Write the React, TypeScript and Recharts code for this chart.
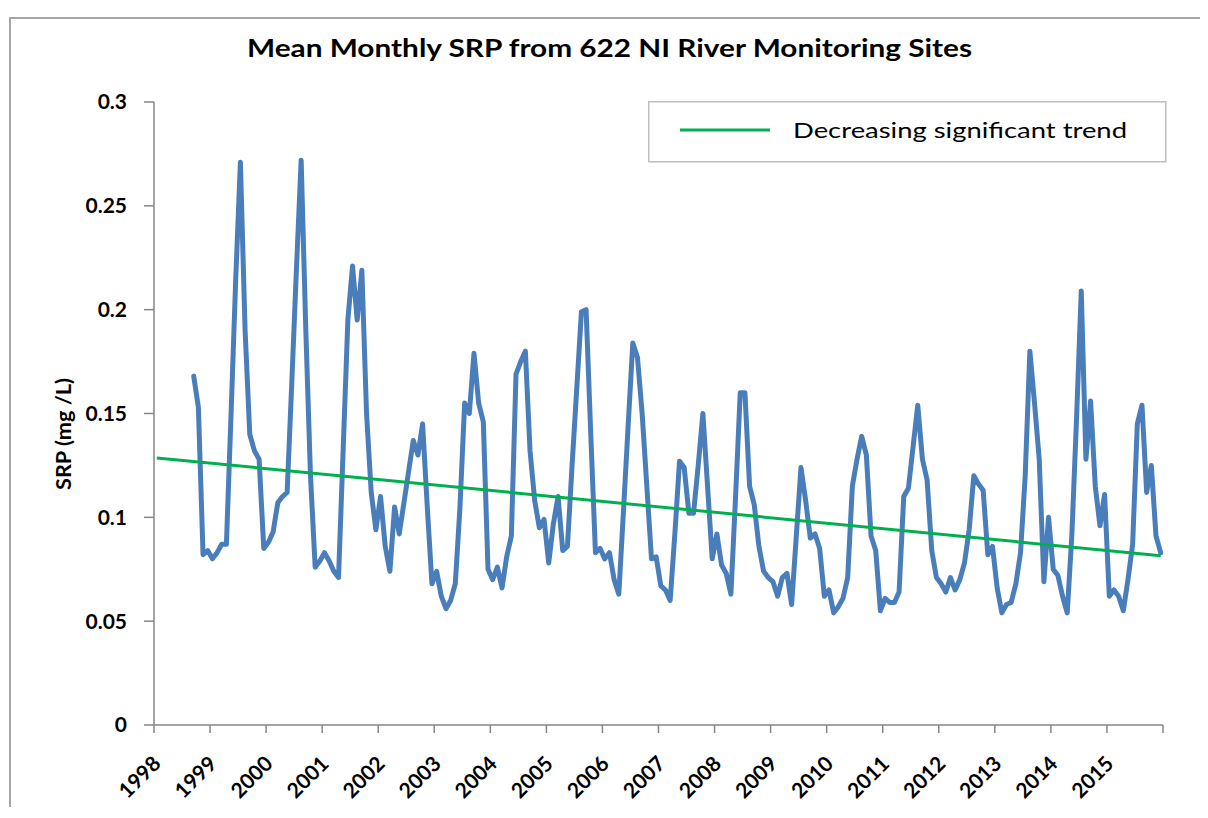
import React from 'react';
import { LineChart, Line, XAxis, YAxis, Legend } from 'recharts';

// ---------- data ----------
const tickYears = [1998, 1999, 2000, 2001, 2002, 2003, 2004, 2005, 2006, 2007, 2008, 2009, 2010, 2011, 2012, 2013, 2014, 2015, 2016];
const yTicks = [0, 0.05, 0.1, 0.15, 0.2, 0.25, 0.3];

// Mean monthly SRP (mg/L); 1998 starts in September
const srp1998 = [0.168, 0.153, 0.082, 0.084];
const srp1999 = [0.080, 0.083, 0.087, 0.087, 0.150, 0.215, 0.271, 0.190, 0.140, 0.132, 0.128, 0.085];
const srp2000 = [0.088, 0.093, 0.107, 0.110, 0.112, 0.165, 0.220, 0.272, 0.190, 0.120, 0.076, 0.079];
const srp2001 = [0.083, 0.079, 0.074, 0.071, 0.133, 0.195, 0.221, 0.195, 0.219, 0.150, 0.112, 0.094];
const srp2002 = [0.110, 0.086, 0.074, 0.105, 0.092, 0.107, 0.122, 0.137, 0.130, 0.145, 0.105, 0.068];
const srp2003 = [0.074, 0.062, 0.056, 0.060, 0.068, 0.105, 0.155, 0.150, 0.179, 0.155, 0.146, 0.075];
const srp2004 = [0.070, 0.076, 0.066, 0.081, 0.091, 0.169, 0.175, 0.180, 0.132, 0.108, 0.095, 0.099];
const srp2005 = [0.078, 0.097, 0.110, 0.084, 0.086, 0.125, 0.162, 0.199, 0.200, 0.140, 0.083, 0.085];
const srp2006 = [0.080, 0.083, 0.070, 0.063, 0.103, 0.144, 0.184, 0.177, 0.150, 0.115, 0.080, 0.081];
const srp2007 = [0.067, 0.065, 0.060, 0.092, 0.127, 0.124, 0.102, 0.102, 0.125, 0.150, 0.115, 0.080];
const srp2008 = [0.092, 0.077, 0.073, 0.063, 0.110, 0.160, 0.160, 0.115, 0.106, 0.086, 0.074, 0.071];
const srp2009 = [0.069, 0.062, 0.071, 0.073, 0.058, 0.091, 0.124, 0.108, 0.090, 0.092, 0.085, 0.062];
const srp2010 = [0.065, 0.054, 0.057, 0.061, 0.071, 0.115, 0.128, 0.139, 0.130, 0.091, 0.084, 0.055];
const srp2011 = [0.061, 0.059, 0.059, 0.064, 0.110, 0.114, 0.134, 0.154, 0.128, 0.118, 0.084, 0.071];
const srp2012 = [0.068, 0.064, 0.071, 0.065, 0.070, 0.078, 0.094, 0.120, 0.116, 0.113, 0.082, 0.086];
const srp2013 = [0.066, 0.054, 0.058, 0.059, 0.068, 0.083, 0.120, 0.180, 0.155, 0.128, 0.069, 0.100];
const srp2014 = [0.075, 0.072, 0.062, 0.054, 0.092, 0.148, 0.209, 0.128, 0.156, 0.115, 0.096, 0.111];
const srp2015 = [0.062, 0.065, 0.062, 0.055, 0.070, 0.087, 0.145, 0.154, 0.112, 0.125, 0.091, 0.083];

const seriesByYear: [number, number, number[]][] = [
  [1998, 8, srp1998], [1999, 0, srp1999], [2000, 0, srp2000], [2001, 0, srp2001],
  [2002, 0, srp2002], [2003, 0, srp2003], [2004, 0, srp2004], [2005, 0, srp2005],
  [2006, 0, srp2006], [2007, 0, srp2007], [2008, 0, srp2008], [2009, 0, srp2009],
  [2010, 0, srp2010], [2011, 0, srp2011], [2012, 0, srp2012], [2013, 0, srp2013],
  [2014, 0, srp2014], [2015, 0, srp2015],
];

const monthlyData = seriesByYear.flatMap(([yr, start, vals]) =>
  vals.map((v, i) => ({ x: yr + (start + i + 0.5) / 12, srp: v }))
);

// Decreasing significant trend (end points)
const trendX = [1998.05, 2015.96];
const trendY = [0.1286, 0.0815];
const trendData = trendX.map((x, i) => ({ x, trend: trendY[i] }));

const TITLE = 'Mean Monthly SRP from 622 NI River Monitoring Sites';
const Y_LABEL = 'SRP (mg /L)';
const LEGEND_LABEL = 'Decreasing significant trend';

// ---------- styles ----------
const FONT = 'Lato, Calibri, "Open Sans", sans-serif';
const AXIS = '#868686';
const BLUE = '#4a7ebb';
const GREEN = '#00b050';

const XTick = (props: any) => {
  const { x, y, payload } = props;
  if (payload.value === 2016) return <g />;
  const ax = x + 8;
  const ay = y + 30;
  return (
    <text x={ax} y={ay} transform={`rotate(-45 ${ax} ${ay})`} textAnchor="end"
      fontFamily={FONT} fontWeight={700} fontSize={21} fill="#000">
      {payload.value}
    </text>
  );
};

const LegendBox = () => (
  <svg width={520} height={63} style={{ display: 'block' }}>
    <rect x={0.75} y={0.75} width={517} height={60} fill="#fff" stroke="#bfbfbf" strokeWidth={1.5} />
    <line x1={32} x2={122} y1={29} y2={29} stroke={GREEN} strokeWidth={3} />
    <text x={145} y={37} fontFamily={FONT} fontSize={22} fill="#000" textLength={334} lengthAdjust="spacingAndGlyphs">
      {LEGEND_LABEL}
    </text>
  </svg>
);

export default function App() {
  return (
    <div style={{ position: 'relative', width: 1200, height: 800 }}>
      <div style={{ position: 'absolute', left: 1, top: 9, width: 1194, height: 790, borderTop: '2px solid #a6a6a6', borderLeft: '2px solid #a6a6a6', borderRight: '2px solid #a6a6a6', boxSizing: 'border-box' }} />
      <LineChart width={1200} height={800} margin={{ top: 94, right: 45, left: 0, bottom: 0 }}>
        <text x={601.5} y={49} textAnchor="middle" fontFamily={FONT} fontWeight={700} fontSize={24} fill="#000"
          textLength={725} lengthAdjust="spacingAndGlyphs">{TITLE}</text>
        <text x={55} y={426} transform="rotate(-90 55 426)" textAnchor="middle" dominantBaseline="central"
          fontFamily={FONT} fontWeight={700} fontSize={20} fill="#000" textLength={112} lengthAdjust="spacingAndGlyphs">{Y_LABEL}</text>
        <XAxis type="number" dataKey="x" domain={[1998, 2016]} ticks={tickYears} interval={0}
          allowDataOverflow height={83} tickSize={8} tickMargin={2}
          axisLine={{ stroke: AXIS, strokeWidth: 1.5 }} tickLine={{ stroke: AXIS, strokeWidth: 1.5 }}
          tick={XTick} />
        <YAxis type="number" domain={[0, 0.3]} ticks={yTicks} interval={0} width={146}
          tickSize={10} tickMargin={17}
          axisLine={{ stroke: AXIS, strokeWidth: 1.5 }} tickLine={{ stroke: AXIS, strokeWidth: 1.5 }}
          tick={{ fontFamily: FONT, fontWeight: 700, fontSize: 21, fill: '#000' }} />
        <Legend layout="horizontal" verticalAlign="middle" align="center"
          wrapperStyle={{ top: 93, left: 640, width: 520, height: 63 }} content={LegendBox} />
        <Line data={monthlyData} dataKey="srp" type="linear" stroke={BLUE} strokeWidth={5}
          strokeLinejoin="round" strokeLinecap="round" dot={false} activeDot={false} isAnimationActive={false} />
        <Line data={trendData} dataKey="trend" type="linear" stroke={GREEN} strokeWidth={3}
          dot={false} activeDot={false} isAnimationActive={false} />
      </LineChart>
    </div>
  );
}
